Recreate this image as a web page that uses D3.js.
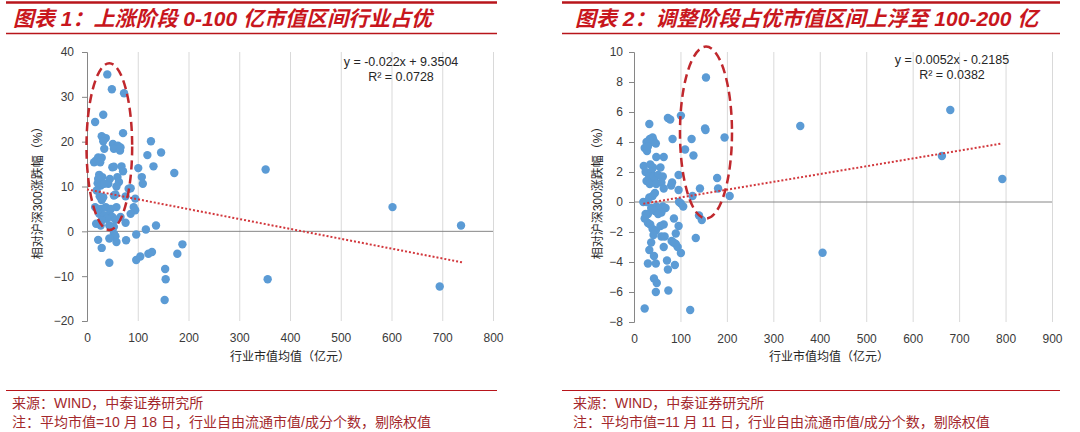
<!DOCTYPE html>
<meta charset="utf-8">
<style>
    body { margin: 0; background: #fff; }
    svg text { font-family: "Liberation Sans", Arial, "Noto Sans CJK SC", sans-serif; }
    .tick text { fill: #3a3a3a; font-size: 12px; }
    .grid line { stroke: #d9d9d9; stroke-width: 1; }
    .dot { fill: #5b9bd5; }
</style>
<body>
<svg width="1080" height="432"></svg>
<script src="https://cdn.jsdelivr.net/npm/d3@7/dist/d3.min.js"></script>
<script>
    // 图表1：上涨阶段
    var upX = [40, 49, 73, 32, 16, 71, 29, 37, 32, 51, 61, 66, 53, 65, 34, 126, 146, 119, 131, 172,
        101, 22, 29, 18, 14, 26, 50, 53, 68, 71, 24, 30, 22, 45, 60, 42, 63, 58, 108, 110,
        21, 27, 34, 82, 86, 19, 25, 32, 29, 53, 56, 76, 95, 16, 27, 37, 47, 58, 92, 95,
        86, 24, 34, 44, 50, 39, 29, 56, 66, 18, 27, 44, 53, 76, 136, 116, 53, 56, 58, 77,
        44, 22, 29, 44, 97, 188, 178, 97, 105, 121, 128, 154, 155, 153, 352, 356, 602, 737, 695];
    var upY = [35.0, 31.7, 30.8, 26.0, 24.4, 21.9, 21.2, 20.8, 20.1, 19.5, 19.1, 18.7, 18.4, 18.0, 18.4, 20.1, 17.6, 17.0, 14.5, 13.0,
        14.1, 16.5, 16.4, 15.8, 15.4, 15.4, 14.3, 14.4, 14.5, 13.4, 12.6, 12.1, 11.7, 11.7, 12.1, 10.6, 11.0, 10.0, 12.1, 10.6,
        10.7, 10.2, 10.6, 9.5, 9.6, 9.1, 7.8, 7.6, 7.0, 8.0, 8.2, 7.8, 7.3, 5.4, 5.0, 5.4, 5.0, 5.4, 5.4, 4.7,
        3.9, 3.9, 3.6, 3.9, 3.2, 2.8, 2.4, 2.6, 3.2, 1.7, 1.3, 1.3, 1.0, 1.9, 1.3, 0.4, -0.5, -1.1, -2.4, -2.0,
        -1.6, -1.9, -3.7, -7.0, -0.7, -2.9, -5.0, -6.4, -5.6, -5.0, -4.6, -8.4, -10.7, -15.3, 13.8, -10.7, 5.4, 1.3, -12.3];
    var upXTicks = [0, 100, 200, 300, 400, 500, 600, 700, 800];
    var upYTicks = [-20, -10, 0, 10, 20, 30, 40];
    var upTrend = [-0.022, 9.3504];   // 斜率, 截距
    var upTrendX = [0, 740];

    // 图表2：调整阶段
    var adjX = [155, 101, 73, 78, 33, 153, 154, 195, 124, 83, 34, 40, 42, 37, 27, 47, 23, 28, 30, 110,
        128, 48, 64, 21, 35, 41, 57, 25, 37, 33, 42, 52, 62, 27, 45, 59, 34, 48, 64, 80,
        82, 96, 179, 181, 96, 142, 126, 206, 20, 27, 33, 40, 45, 101, 106, 97, 37, 48, 55, 62,
        68, 45, 59, 30, 52, 140, 146, 25, 23, 30, 35, 40, 47, 57, 64, 86, 96, 42, 59, 66,
        90, 133, 81, 90, 85, 94, 37, 64, 101, 33, 43, 30, 47, 71, 73, 88, 43, 49, 47, 74,
        23, 121, 358, 681, 663, 793, 406];
    var adjY = [8.3, 5.76, 5.6, 5.5, 5.2, 4.9, 4.8, 4.3, 4.2, 4.2, 4.2, 4.3, 4.1, 4.0, 4.0, 3.9, 3.6, 3.4, 3.7, 3.5,
        3.1, 3.0, 3.0, 2.4, 2.5, 2.3, 2.3, 2.0, 2.0, 1.7, 1.7, 1.8, 1.7, 1.4, 1.4, 1.3, 1.2, 1.2, 0.9, 1.1,
        1.3, 1.8, 1.6, 0.9, 0.8, 0.9, 0.4, 0.4, 0.0, 0.0, 0.3, 0.4, 0.6, -0.1, -0.3, 0.0, -0.4, -0.3, -0.4, -0.3,
        -0.4, -0.6, -0.7, -0.8, -0.8, -0.9, -1.2, -0.8, -1.1, -1.4, -1.5, -1.8, -1.9, -1.6, -1.5, -1.1, -1.6, -2.2, -2.3, -2.3,
        -2.1, -2.4, -2.6, -2.8, -2.7, -3.0, -2.7, -3.0, -3.4, -3.2, -3.6, -4.1, -4.1, -3.9, -4.5, -4.2, -5.1, -5.4, -6.0, -5.9,
        -7.1, -7.2, 5.07, 6.13, 3.07, 1.53, -3.38];
    var adjXTicks = [0, 100, 200, 300, 400, 500, 600, 700, 800, 900];
    var adjYTicks = [-8, -6, -4, -2, 0, 2, 4, 6, 8, 10];
    var adjTrend = [0.0052, -0.2185];
    var adjTrendX = [20, 793];

    var svg = d3.select("svg");

    function drawHeader(x0, x1, tx, title) {
        svg.append("line").attr("x1", x0).attr("x2", x1).attr("y1", 2.5).attr("y2", 2.5)
            .attr("stroke", "#b8151b").attr("stroke-width", 2.5);
        svg.append("line").attr("x1", x0).attr("x2", x1).attr("y1", 33.5).attr("y2", 33.5)
            .attr("stroke", "#b8151b").attr("stroke-width", 1.5);
        svg.append("text")
            .attr("x", tx).attr("y", 26)
            .style("font-size", "21px").style("font-weight", "bold").style("font-style", "italic")
            .style("fill", "#c8161d")
            .text(title);
    }

    function drawFooter(x0, x1, tx, note) {
        svg.append("line").attr("x1", x0).attr("x2", x1).attr("y1", 390.5).attr("y2", 390.5)
            .attr("stroke", "#b8151b").attr("stroke-width", 1);
        var g = svg.append("g").style("font-size", "14px").style("fill", "#a3282c");
        g.append("text").attr("x", tx).attr("y", 408).text("来源：WIND，中泰证券研究所");
        g.append("text").attr("x", tx).attr("y", 427).text(note);
    }

    function drawPanel(cfg) {
        var x = d3.scaleLinear().domain(d3.extent(cfg.xTicks)).range(cfg.xRange),
            y = d3.scaleLinear().domain(d3.extent(cfg.yTicks)).range(cfg.yRange);
        var g = svg.append("g");

        // 竖向网格 + 底部刻度标签
        var gx = g.append("g")
            .attr("class", "grid")
            .attr("transform", "translate(0," + cfg.yRange[0] + ")")
            .call(d3.axisBottom(x).tickValues(cfg.xTicks).tickSize(-(cfg.yRange[0] - cfg.yRange[1])).tickPadding(12));
        gx.select(".domain").remove();
        gx.selectAll(".tick").filter(function (d) { return d === 0; }).select("line").remove();

        // 零线
        g.append("line")
            .attr("x1", x(0)).attr("x2", x(cfg.xTicks[cfg.xTicks.length - 1]))
            .attr("y1", y(0)).attr("y2", y(0))
            .attr("stroke", "#868686").attr("stroke-width", 1);

        // y 轴
        var gy = g.append("g")
            .attr("transform", "translate(" + x(0) + ",0)")
            .call(d3.axisLeft(y).tickValues(cfg.yTicks).tickSize(5).tickPadding(cfg.yPad));
        gy.select(".domain").attr("stroke", "#868686");
        gy.selectAll(".tick line").attr("stroke", "#868686");

        // 轴标题
        g.append("text")
            .attr("x", cfg.xTitleX).attr("y", 361)
            .attr("text-anchor", "middle")
            .style("font-size", "12px").style("fill", "#262626")
            .text("行业市值均值（亿元）");
        g.append("text")
            .attr("transform", "translate(" + cfg.yTitleX + "," + 190 + ") rotate(-90)")
            .attr("text-anchor", "middle")
            .attr("dy", "0.35em")
            .style("font-size", "12px").style("fill", "#262626")
            .text("相对沪深300涨跌幅（%）");

        // 散点
        g.selectAll(".dot")
            .data(cfg.xs.map(function (v, i) { return [v, cfg.ys[i]]; }))
            .enter().append("circle")
            .attr("class", "dot")
            .attr("r", 4.2)
            .attr("cx", function (d) { return x(d[0]); })
            .attr("cy", function (d) { return y(d[1]); });

        // 趋势线
        g.append("line")
            .attr("x1", x(cfg.trendX[0])).attr("y1", y(cfg.trend[0] * cfg.trendX[0] + cfg.trend[1]))
            .attr("x2", x(cfg.trendX[1])).attr("y2", y(cfg.trend[0] * cfg.trendX[1] + cfg.trend[1]))
            .attr("stroke", "#d2373c").attr("stroke-width", 2)
            .attr("stroke-dasharray", "2,2");

        // 虚线圈
        var r = cfg.ring;
        g.append("ellipse")
            .attr("cx", x(r[0])).attr("cy", y(r[1]))
            .attr("rx", x(r[2]) - x(0)).attr("ry", y(0) - y(r[3]))
            .attr("fill", "none")
            .attr("stroke", "#c0282d").attr("stroke-width", 2.5)
            .attr("stroke-dasharray", "9,5");

        // 公式
        var eq = g.append("g").style("font-size", "12.5px").style("fill", "#262626").attr("text-anchor", "middle");
        eq.append("text").attr("x", cfg.eqX).attr("y", cfg.eqY).text(cfg.eq[0]);
        eq.append("text").attr("x", cfg.eqX).attr("y", cfg.eqY + 14.5).text(cfg.eq[1]);
    }

    drawHeader(6, 497, 13, "图表 1：上涨阶段 0-100 亿市值区间行业占优");
    drawHeader(562, 1060, 575, "图表 2：调整阶段占优市值区间上浮至 100-200 亿");

    drawPanel({
        xs: upX, ys: upY, xTicks: upXTicks, yTicks: upYTicks,
        xRange: [87, 493], yRange: [321, 52], yPad: 8,
        trend: upTrend, trendX: upTrendX,
        ring: [44, 18.9, 45, 18.6],
        eq: ["y = -0.022x + 9.3504", "R² = 0.0728"], eqX: 401, eqY: 66,
        xTitleX: 290, yTitleX: 38
    });
    drawPanel({
        xs: adjX, ys: adjY, xTicks: adjXTicks, yTicks: adjYTicks,
        xRange: [634, 1052], yRange: [322, 52], yPad: 6,
        trend: adjTrend, trendX: adjTrendX,
        ring: [155, 4.63, 56, 5.73],
        eq: ["y = 0.0052x - 0.2185", "R² = 0.0382"], eqX: 952, eqY: 64,
        xTitleX: 829, yTitleX: 598
    });

    drawFooter(6, 497, 12, "注：平均市值=10 月 18 日，行业自由流通市值/成分个数，剔除权值");
    drawFooter(562, 1060, 573, "注：平均市值=11 月 11 日，行业自由流通市值/成分个数，剔除权值");
</script>
</body>
